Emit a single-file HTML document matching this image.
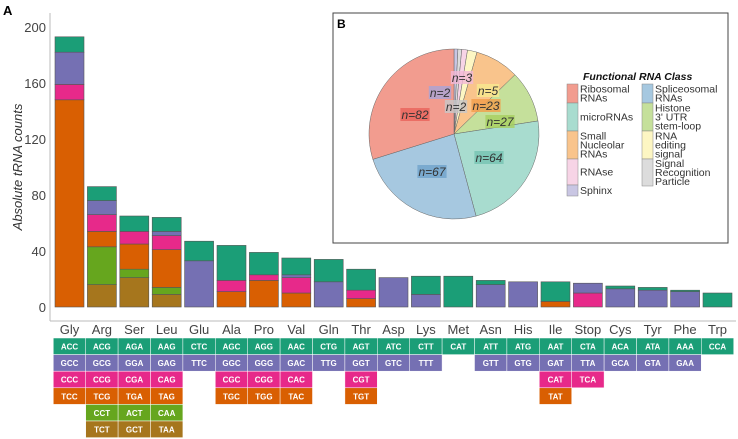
<!DOCTYPE html>
<html><head><meta charset="utf-8"><style>
html,body{margin:0;padding:0;background:#fff;}
svg{display:block;font-family:"Liberation Sans",sans-serif;}
</style></head><body>
<svg id="c" width="738" height="439" viewBox="0 0 738 439" xmlns="http://www.w3.org/2000/svg">
<text x="3" y="15" font-size="13" font-weight="bold">A</text>
<text transform="translate(22,167) rotate(-90)" text-anchor="middle" font-size="13" font-style="italic" fill="#333">Absolute tRNA counts</text>
<g id="bars"></g><g id="table"></g>
<rect x="333" y="13" width="395" height="230" fill="#fff" stroke="#444" stroke-width="1"/>
<text x="337" y="28" font-size="12" font-weight="bold">B</text>
<g id="pie"></g><g id="legend"></g>
</svg>
<script>
const categories=["Gly","Arg","Ser","Leu","Glu","Ala","Pro","Val","Gln","Thr","Asp","Lys","Met","Asn","His","Ile","Stop","Cys","Tyr","Phe","Trp"];
const brownVals=[0,16,21,9,0,0,0,0,0,0,0,0,0,0,0,0,0,0,0,0,0];
const lgreenVals=[0,27,6,5,0,0,0,0,0,0,0,0,0,0,0,0,0,0,0,0,0];
const orangeVals=[148,11,18,27,0,11,19,10,0,6,0,0,0,0,0,4,0,0,0,0,0];
const pinkVals=[11,12,9,10,0,8,4,11,0,6,0,0,0,0,0,0,10,0,0,0,0];
const purpleVals=[23,10,0,3,33,0,0,2,18,0,21,9,0,16,18,0,7,13,12,11,0];
const tealVals=[11,10,11,10,14,25,16,12,16,15,0,13,22,3,0,14,0,2,2,1,10];
const yTicks=[0,40,80,120,160,200];
const codonRows=[
["ACC","ACG","AGA","AAG","CTC","AGC","AGG","AAC","CTG","AGT","ATC","CTT","CAT","ATT","ATG","AAT","CTA","ACA","ATA","AAA","CCA"],
["GCC","GCG","GGA","GAG","TTC","GGC","GGG","GAC","TTG","GGT","GTC","TTT","","GTT","GTG","GAT","TTA","GCA","GTA","GAA",""],
["CCC","CCG","CGA","CAG","","CGC","CGG","CAC","","CGT","","","","","","CAT","TCA","","","",""],
["TCC","TCG","TGA","TAG","","TGC","TGG","TAC","","TGT","","","","","","TAT","","","","",""],
["","CCT","ACT","CAA","","","","","","","","","","","","","","","","",""],
["","TCT","GCT","TAA","","","","","","","","","","","","","","","","",""]];
const pieLabels=["Sphinx","Signal Recognition Particle","RNAse","RNA editing signal","Small Nucleolar RNAs","Histone 3' UTR stem-loop","microRNAs","Spliceosomal RNAs","Ribosomal RNAs"];
const pieValues=[2,2,3,5,23,27,64,67,82];

const NS="http://www.w3.org/2000/svg";
function mk(t,a,p){const e=document.createElementNS(NS,t);for(const k in a)e.setAttribute(k,a[k]);p.appendChild(e);return e;}
const y0=307,k=1.4;
const yS=v=>y0-v*k;
const xC=i=>69.5+i*32.4;
const bw=29;
const bars=document.getElementById('bars');
let ax=mk('line',{x1:50,y1:13,x2:50,y2:321,stroke:'#bbb'},bars);


let axx=mk('line',{x1:50,y1:321,x2:736,y2:321,stroke:'#bbb'},bars);


yTicks.forEach(t=>{
 const tx=mk('text',{x:46,y:yS(t)+5,'text-anchor':'end','font-size':13,fill:'#444'},bars);
 tx.textContent=t;
 
 
});
const series=[["brown",brownVals,"#a6761d"],["light-green",lgreenVals,"#66a61e"],["orange",orangeVals,"#d95f02"],["pink",pinkVals,"#e7298a"],["purple",purpleVals,"#7570b3"],["teal",tealVals,"#1b9e77"]];
categories.forEach((c,i)=>{
 let acc=0;
 series.forEach(s=>{
  const v=s[1][i]; if(!v)return;
  const r=mk('rect',{x:xC(i)-bw/2,y:yS(acc+v),width:bw,height:v*k,fill:s[2],stroke:'#555','stroke-width':0.6},bars);
  
  
  acc+=v;
 });
 const t=mk('text',{x:xC(i),y:334,'text-anchor':'middle','font-size':13,fill:'#444'},bars);
 t.textContent=c;
 
 
});
const rowCols=["#1b9e77","#7570b3","#e7298a","#d95f02","#66a61e","#a6761d"];
const tb=document.getElementById('table');
codonRows.forEach((row,ri)=>{
 row.forEach((cd,i)=>{
  if(!cd)return;
  const y=338+ri*16.6;
  const r=mk('rect',{x:xC(i)-16.2,y:y,width:32.4,height:16.6,fill:rowCols[ri],stroke:'#fff','stroke-width':0.5},tb);
  
  
  const t=mk('text',{x:xC(i),y:y+11.5,'text-anchor':'middle','font-size':8,'font-weight':'bold',fill:'#fff'},tb);
  t.textContent=cd;
  
  
 });
});
const pieCols=["#c9c6e3","#dcdcdc","#f7d4e6","#fdf6c3","#f9c48c","#c5e09b","#a8dccf","#a6c8e0","#f29c8f"];
const labCols=["#a9a4d6","#c8c8c8","#f2b9d7","#f7ea8f","#f29d4a","#a6cf5f","#74c3b1","#6fa2cb","#e8635a"];
const labPos=[[440,93],[456,107],[462,78],[488,91],[486,106],[500,122],[489,158],[432,172],[415,115]];
const pie=document.getElementById('pie');
const cx=454,cy=134,R=85;
const tot=pieValues.reduce((a,b)=>a+b,0);
let ang=0;
pieValues.forEach((v,i)=>{
 const a0=ang/tot*2*Math.PI, a1=(ang+v)/tot*2*Math.PI; ang+=v;
 const p=(a)=>[cx+R*Math.sin(a),cy-R*Math.cos(a)];
 const [x0,y0b]=p(a0),[x1,y1]=p(a1);
 const path=mk('path',{d:`M${cx},${cy}L${x0},${y0b}A${R},${R} 0 ${a1-a0>Math.PI?1:0} 1 ${x1},${y1}Z`,fill:pieCols[i],stroke:'#666','stroke-width':0.5},pie);
 
 
});
pieValues.forEach((v,i)=>{
 const [lx,ly]=labPos[i];
 const txt='n='+v; const w=txt.length*6.8+2;
 const r=mk('rect',{x:lx-w/2,y:ly-7,width:w,height:13,fill:labCols[i],opacity:0.8},pie);
 
 
 const t=mk('text',{x:lx,y:ly+4,'text-anchor':'middle','font-size':12,'font-style':'italic',fill:'#333'},pie);
 t.textContent=txt;
 
 
});
const lg=document.getElementById('legend');
const lt=mk('text',{x:583,y:80,'font-size':10.5,'font-weight':'bold','font-style':'italic',fill:'#111'},lg);
lt.textContent='Functional RNA Class';


const legItems=[
 [567,84,19,8,["Ribosomal","RNAs"]],[567,103,28,6,["microRNAs"]],[567,131,28,4,["Small","Nucleolar","RNAs"]],[567,159,26,2,["RNAse"]],[567,185,11,0,["Sphinx"]],
 [642,84,19,7,["Spliceosomal","RNAs"]],[642,103,28,5,["Histone","3' UTR","stem-loop"]],[642,131,28,3,["RNA","editing","signal"]],[642,159,27,1,["Signal","Recognition","Particle"]]];
legItems.forEach(it=>{
 const [x,y,h,ci,lines]=it;
 const r=mk('rect',{x:x,y:y,width:11,height:h,fill:pieCols[ci],stroke:'#888','stroke-width':0.5},lg);
 
 
 const start=y+h/2-(lines.length-1)*4.6+3.5;
 lines.forEach((l,j)=>{
  const t=mk('text',{x:x+13,y:start+j*9.2,'font-size':10.5,fill:'#333'},lg);
  t.textContent=l;
  
  
 });
});
</script>
</body></html>
